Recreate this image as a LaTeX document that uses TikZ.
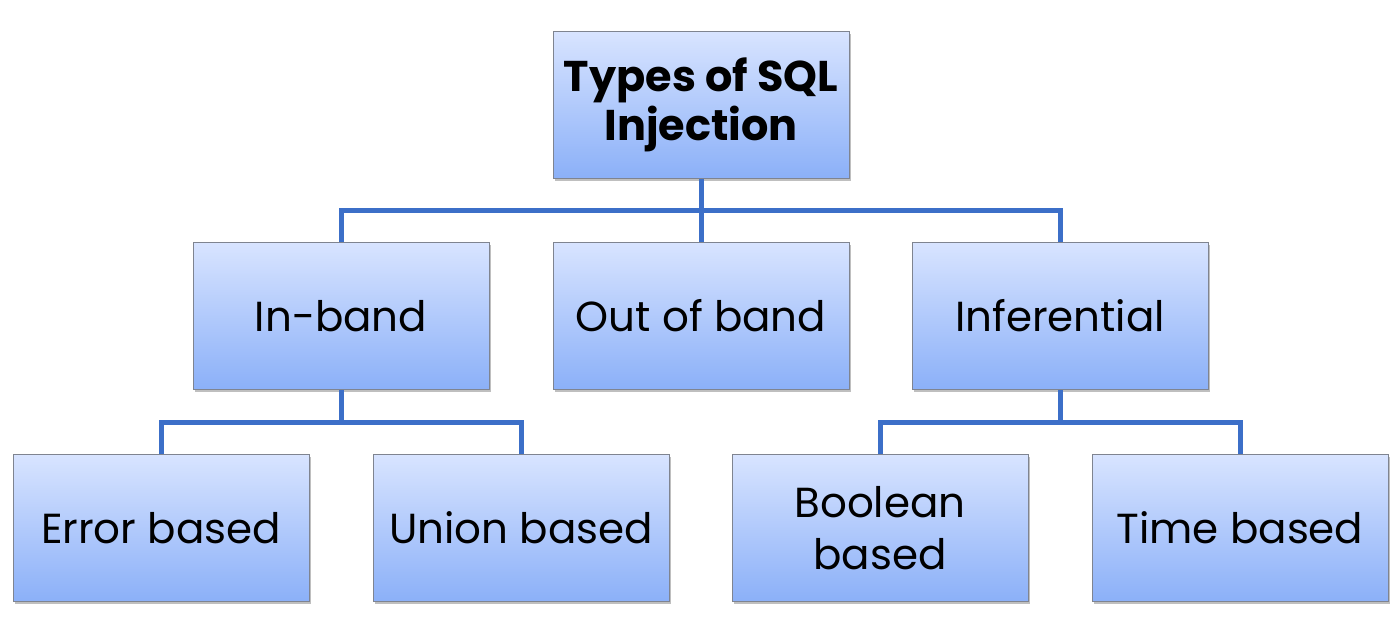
\documentclass[tikz,border=0pt]{standalone}
\usepackage{fontspec}
\setmainfont{Poppins}
\usetikzlibrary{shadows}
\definecolor{topc}{HTML}{D8E4FF}
\definecolor{botc}{HTML}{8BB0F8}
\definecolor{linec}{HTML}{3C6FC8}
\definecolor{edgec}{HTML}{7F8490}
\tikzset{
  boxnode/.style={draw=edgec, line width=0.5pt, top color=topc, bottom color=botc,
    minimum width=148pt, minimum height=73.5pt, inner sep=0pt, align=center,
    font=\fontsize{21}{26}\selectfont,
    drop shadow={shadow xshift=1pt, shadow yshift=-1.2pt, opacity=0.25, fill=black}},
  titlenode/.style={boxnode, font=\fontsize{21.5}{24.5}\selectfont\bfseries},
  conn/.style={draw=linec, line width=2.5pt}
}
\begin{document}
\begin{tikzpicture}[x=0.5pt, y=-0.5pt]
\useasboundingbox[fill=white] (0,0) rectangle (1400,636);
\node[titlenode] (top) at (701,105) {Types of SQL\\Injection};
\node[boxnode] (inband) at (341,316) {In-band};
\node[boxnode] (oob) at (701,316) {Out of band};
\node[boxnode] (infer) at (1060,316) {Inferential};
\node[boxnode] (err) at (161,528) {Error based};
\node[boxnode] (uni) at (521,528) {Union based};
\node[boxnode] (bool) at (880,528) {Boolean\\based};
\node[boxnode] (time) at (1240,528) {Time based};
\coordinate (bus1) at (701,210);
\coordinate (bus2) at (341,422);
\coordinate (bus3) at (1060,422);
\draw[conn] (top.south) -- (oob.north);
\draw[conn] (inband.north) -- (inband.north |- bus1) -- (infer.north |- bus1) -- (infer.north);
\draw[conn] (inband.south) -- (bus2);
\draw[conn] (err.north) -- (err.north |- bus2) -- (uni.north |- bus2) -- (uni.north);
\draw[conn] (infer.south) -- (bus3);
\draw[conn] (bool.north) -- (bool.north |- bus3) -- (time.north |- bus3) -- (time.north);
\end{tikzpicture}
\end{document}
